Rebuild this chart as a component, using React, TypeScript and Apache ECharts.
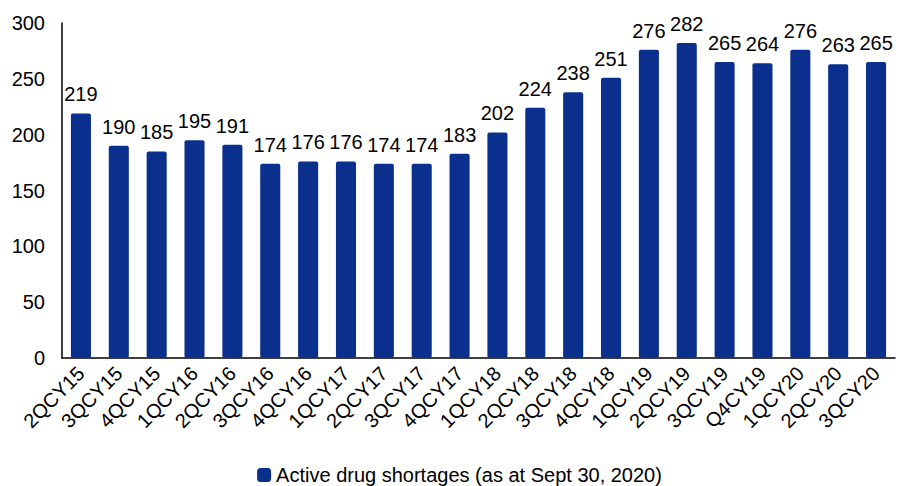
import React, { useEffect, useRef } from "react";
import * as echarts from "echarts";

const categories = [
  "2QCY15", "3QCY15", "4QCY15", "1QCY16", "2QCY16", "3QCY16", "4QCY16",
  "1QCY17", "2QCY17", "3QCY17", "4QCY17", "1QCY18", "2QCY18", "3QCY18",
  "4QCY18", "1QCY19", "2QCY19", "3QCY19", "Q4CY19", "1QCY20", "2QCY20", "3QCY20",
];
const shortages = [
  219, 190, 185, 195, 191, 174, 176, 176, 174, 174, 183, 202, 224, 238,
  251, 276, 282, 265, 264, 276, 263, 265,
];
const yTicks = [0, 50, 100, 150, 200, 250, 300];
const seriesName = "Active drug shortages (as at Sept 30, 2020)";

export default function App() {
  const ref = useRef<HTMLDivElement>(null);
  useEffect(() => {
    if (!ref.current) return;
    const chart = echarts.init(ref.current, null, { renderer: "svg" });
    const font = "'Liberation Sans', Arial, sans-serif";
    chart.setOption({
      animation: false,
      textStyle: { fontFamily: font },
      grid: { left: 54, right: 16, top: 15, bottom: 128, containLabel: false },
      legend: {
        top: 456,
        left: "center",
        padding: 0,
        itemWidth: 14,
        itemHeight: 14,
        icon: "roundRect",
        textStyle: { fontSize: 20, lineHeight: 22, color: "#000", fontFamily: font },
        data: [seriesName],
      },
      xAxis: {
        type: "category",
        data: categories,
        axisLine: { lineStyle: { color: "#000", width: 1.5 } },
        axisTick: { show: false },
        axisLabel: {
          rotate: 45,
          interval: 0,
          fontSize: 20,
          color: "#000",
          fontFamily: font,
          margin: 12,
        },
      },
      yAxis: {
        type: "value",
        min: yTicks[0],
        max: yTicks[yTicks.length - 1],
        interval: yTicks[1] - yTicks[0],
        splitLine: { show: false },
        axisLine: { show: true, lineStyle: { color: "#000", width: 1.5 } },
        axisTick: { show: false },
        axisLabel: { fontSize: 20, color: "#000", fontFamily: font, margin: 17 },
      },
      series: [
        {
          name: seriesName,
          type: "bar",
          data: shortages,
          barWidth: "53%",
          itemStyle: { color: "#0A2F8C", borderRadius: 2 },
          label: {
            show: true,
            position: "top",
            distance: 9,
            fontSize: 20,
            color: "#000",
            fontFamily: font,
          },
        },
      ],
    });
    return () => chart.dispose();
  }, []);
  return <div ref={ref} style={{ width: 903, height: 478 }} />;
}
